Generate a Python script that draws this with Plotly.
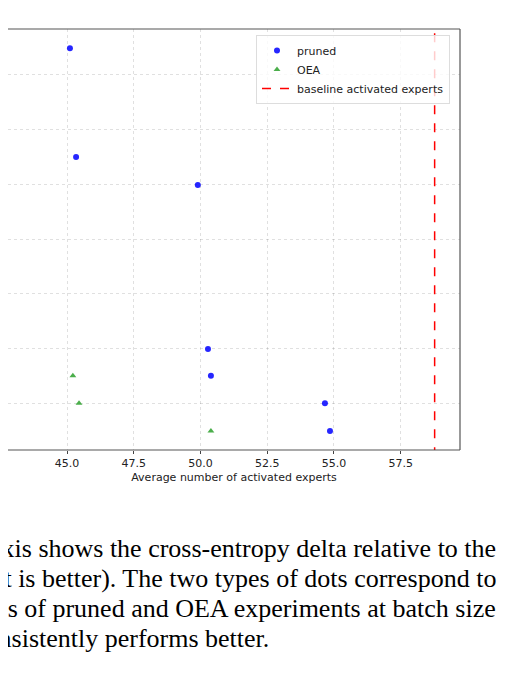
import plotly.graph_objects as go

pruned_x = [45.11, 45.34, 49.9, 50.28, 50.39, 54.66, 54.85]
pruned_y = [0.0749, 0.0550, 0.0499, 0.0199, 0.0150, 0.0100, 0.0049]
oea_x = [45.22, 45.45, 50.39]
oea_y = [0.0150, 0.0100, 0.0049]
baseline_x = 58.77
x_ticks = [42.5, 45.0, 47.5, 50.0, 52.5, 55.0, 57.5]
caption = [
    "axis shows the cross-entropy delta relative to the",
    "left is better). The two types of dots correspond to",
    "runs of pruned and OEA experiments at batch size",
    "consistently performs better.",
]

# page is drawn with an 8px body offset; plot box spans page px 8..460 x 29..450
OFF = 8
PW, PH = 452, 421

fig = go.Figure()
fig.add_trace(go.Scatter(x=pruned_x, y=pruned_y, mode="markers", name="pruned",
                         marker=dict(symbol="circle", size=6, color="rgba(0,0,255,0.85)")))
fig.add_trace(go.Scatter(x=oea_x, y=oea_y, mode="markers", name="OEA",
                         marker=dict(symbol="triangle-up", size=6, color="rgba(44,160,44,0.85)")))
fig.add_trace(go.Scatter(x=[baseline_x, baseline_x], y=[-1, 1], mode="lines",
                         name="baseline activated experts",
                         line=dict(color="red", dash="dash", width=1.5)))

grid = "rgba(0,0,0,0.12)"
fig.update_xaxes(range=[42.79, 59.72], tickvals=x_ticks, ticktext=[f"{v:.1f}" for v in x_ticks],
                 showgrid=True, gridcolor=grid, griddash="dot", zeroline=False, showline=False,
                 ticks="outside", ticklen=3, tickcolor="#444",
                 title=dict(text="Average number of activated experts", font=dict(size=11), standoff=4),
                 tickfont=dict(size=11))
fig.update_yaxes(range=[0.00144, 0.0784], dtick=0.01, showticklabels=False, showgrid=True,
                 gridcolor=grid, griddash="dot", zeroline=False, showline=False)

for x0, y0, x1, y1 in [(0, 1, 1, 1), (0, 0, 1, 0), (1, 0, 1, 1)]:
    fig.add_shape(type="line", xref="paper", yref="paper", x0=x0, y0=y0, x1=x1, y1=y1,
                  line=dict(color="#555", width=1.2))

line_ends = [498, 498, 498, 271]
for i, (t, xe) in enumerate(zip(caption, line_ends)):
    py = 548 + 30 * i
    fig.add_annotation(text=t, xref="paper", yref="paper", x=(xe - OFF) / PW, y=(450 - py) / PH,
                       xanchor="right", yanchor="middle", showarrow=False,
                       font=dict(family="Liberation Serif", size=26, color="black"))

fig.update_layout(
    width=521, height=679, margin=dict(l=0, r=521 - PW, t=29 - OFF, b=679 - (29 - OFF) - PH),
    plot_bgcolor="white", paper_bgcolor="white",
    font=dict(family="DejaVu Sans", color="#222"),
    legend=dict(x=(450 - OFF) / PW, y=(450 - 35) / PH, xanchor="right", yanchor="top",
                bordercolor="#ddd", borderwidth=1, bgcolor="rgba(255,255,255,0.8)",
                font=dict(size=11), tracegroupgap=0),
    showlegend=True,
)
fig.write_html("out.html")
